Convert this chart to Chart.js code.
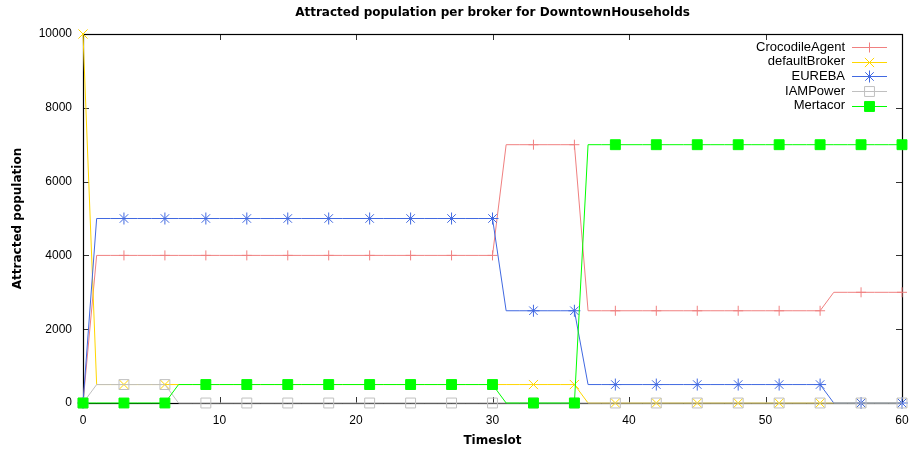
<!DOCTYPE html>
<html>
<head>
<meta charset="utf-8">
<script src="https://cdn.jsdelivr.net/npm/chart.js@4.4.1/dist/chart.umd.min.js"></script>
<style>
  html, body { margin: 0; padding: 0; background: #fff; }
  #c { display: block; }
</style>
</head>
<body>
<canvas id="c" width="915" height="450"></canvas>
<script>
// ---- Data ----
const TITLE = 'Attracted population per broker for DowntownHouseholds';
const X_LABEL = 'Timeslot';
const Y_LABEL = 'Attracted population';

const timeslots = [
  0, 1, 2, 3, 4, 5, 6, 7, 8, 9,
  10, 11, 12, 13, 14, 15, 16, 17, 18, 19,
  20, 21, 22, 23, 24, 25, 26, 27, 28, 29,
  30, 31, 32, 33, 34, 35, 36, 37, 38, 39,
  40, 41, 42, 43, 44, 45, 46, 47, 48, 49,
  50, 51, 52, 53, 54, 55, 56, 57, 58, 59,
  60
];

const brokers = ['CrocodileAgent', 'defaultBroker', 'EUREBA', 'IAMPower', 'Mertacor'];

const crocodileAgent = [
  0, 4000, 4000, 4000, 4000, 4000, 4000, 4000, 4000, 4000,
  4000, 4000, 4000, 4000, 4000, 4000, 4000, 4000, 4000, 4000,
  4000, 4000, 4000, 4000, 4000, 4000, 4000, 4000, 4000, 4000,
  4000, 7000, 7000, 7000, 7000, 7000, 7000, 2500, 2500, 2500,
  2500, 2500, 2500, 2500, 2500, 2500, 2500, 2500, 2500, 2500,
  2500, 2500, 2500, 2500, 2500, 3000, 3000, 3000, 3000, 3000,
  3000
];
const defaultBroker = [
  10000, 500, 500, 500, 500, 500, 500, 500, 500, 500,
  500, 500, 500, 500, 500, 500, 500, 500, 500, 500,
  500, 500, 500, 500, 500, 500, 500, 500, 500, 500,
  500, 500, 500, 500, 500, 500, 500, 0, 0, 0,
  0, 0, 0, 0, 0, 0, 0, 0, 0, 0,
  0, 0, 0, 0, 0, 0, 0, 0, 0, 0,
  0
];
const eureba = [
  0, 5000, 5000, 5000, 5000, 5000, 5000, 5000, 5000, 5000,
  5000, 5000, 5000, 5000, 5000, 5000, 5000, 5000, 5000, 5000,
  5000, 5000, 5000, 5000, 5000, 5000, 5000, 5000, 5000, 5000,
  5000, 2500, 2500, 2500, 2500, 2500, 2500, 500, 500, 500,
  500, 500, 500, 500, 500, 500, 500, 500, 500, 500,
  500, 500, 500, 500, 500, 0, 0, 0, 0, 0,
  0
];
const iamPower = [
  0, 500, 500, 500, 500, 500, 500, 0, 0, 0,
  0, 0, 0, 0, 0, 0, 0, 0, 0, 0,
  0, 0, 0, 0, 0, 0, 0, 0, 0, 0,
  0, 0, 0, 0, 0, 0, 0, 0, 0, 0,
  0, 0, 0, 0, 0, 0, 0, 0, 0, 0,
  0, 0, 0, 0, 0, 0, 0, 0, 0, 0,
  0
];
const mertacor = [
  0, 0, 0, 0, 0, 0, 0, 500, 500, 500,
  500, 500, 500, 500, 500, 500, 500, 500, 500, 500,
  500, 500, 500, 500, 500, 500, 500, 500, 500, 500,
  500, 0, 0, 0, 0, 0, 0, 7000, 7000, 7000,
  7000, 7000, 7000, 7000, 7000, 7000, 7000, 7000, 7000, 7000,
  7000, 7000, 7000, 7000, 7000, 7000, 7000, 7000, 7000, 7000,
  7000
];

const xTicks = [0, 10, 20, 30, 40, 50, 60];
const yTicks = [0, 2000, 4000, 6000, 8000, 10000];

// ---- Styles ----
const seriesValues = [crocodileAgent, defaultBroker, eureba, iamPower, mertacor];
const styles = [
  { color: 'rgb(240,128,128)', point: 'cross',    radius: 5,   fill: false },
  { color: 'rgb(255,215,0)',   point: 'crossRot', radius: 6.5, fill: false },
  { color: 'rgb(65,105,225)',  point: 'star',     radius: 6,   fill: false },
  { color: 'rgb(192,192,192)', point: 'rect',     radius: 7,   fill: false },
  { color: 'rgb(0,255,0)',     point: 'rect',     radius: 7,   fill: true  }
];

const datasets = brokers.map((name, i) => {
  const s = styles[i];
  return {
    label: name,
    data: timeslots.map((t, k) => ({ x: t, y: seriesValues[i][k] })),
    borderColor: s.color,
    borderWidth: 1,
    backgroundColor: s.fill ? s.color : 'rgba(0,0,0,0)',
    pointStyle: s.point,
    pointBorderColor: s.color,
    pointBackgroundColor: s.fill ? s.color : 'rgba(0,0,0,0)',
    pointBorderWidth: 1,
    pointRadius: (c) => (c.dataIndex % 3 === 0 ? s.radius : 0),
    pointHoverRadius: 0,
    tension: 0,
    fill: false,
    clip: false,
    order: brokers.length - 1 - i
  };
});

const FONT_TICK = { family: 'Liberation Sans, Arial, sans-serif', size: 12 };
const FONT_BOLD = { family: 'DejaVu Sans, sans-serif', size: 12, weight: 'bold', lineHeight: 1.2 };

function drawMarker(ctx, style, x, y) {
  ctx.save();
  ctx.strokeStyle = style.color;
  ctx.fillStyle = style.color;
  ctx.lineWidth = 1;
  const r = style.radius;
  ctx.beginPath();
  if (style.point === 'cross' || style.point === 'star') {
    ctx.moveTo(x - r, y); ctx.lineTo(x + r, y);
    ctx.moveTo(x, y - r); ctx.lineTo(x, y + r);
  }
  if (style.point === 'crossRot' || style.point === 'star') {
    const d = r * Math.SQRT1_2;
    ctx.moveTo(x - d, y - d); ctx.lineTo(x + d, y + d);
    ctx.moveTo(x - d, y + d); ctx.lineTo(x + d, y - d);
  }
  if (style.point === 'rect') {
    const d = r * Math.SQRT1_2;
    ctx.rect(x - d, y - d, 2 * d, 2 * d);
    if (style.fill) ctx.fill();
  }
  ctx.stroke();
  ctx.restore();
}

const framePlugin = {
  id: 'frame',
  beforeDraw(chart) {
    const ctx = chart.ctx;
    ctx.save();
    ctx.fillStyle = '#fff';
    ctx.fillRect(0, 0, chart.width, chart.height);
    ctx.restore();
  },
  beforeDatasetsDraw(chart) {
    const { ctx, chartArea: a, scales } = chart;
    ctx.save();
    ctx.strokeStyle = '#333';
    ctx.lineWidth = 1;
    ctx.beginPath();
    const L = 6;
    xTicks.forEach(v => {
      const px = Math.round(scales.x.getPixelForValue(v)) + 0.5;
      ctx.moveTo(px, a.bottom); ctx.lineTo(px, a.bottom - L);
      ctx.moveTo(px, a.top); ctx.lineTo(px, a.top + L);
    });
    yTicks.forEach(v => {
      const py = Math.round(scales.y.getPixelForValue(v)) + 0.5;
      ctx.moveTo(a.left, py); ctx.lineTo(a.left + L, py);
      ctx.moveTo(a.right, py); ctx.lineTo(a.right - L, py);
    });
    ctx.stroke();
    ctx.strokeStyle = '#000';
    ctx.lineWidth = 1.2;
    ctx.strokeRect(Math.round(a.left) + 0.5, Math.round(a.top) + 0.5,
                   Math.round(a.right - a.left), Math.round(a.bottom - a.top));
    ctx.restore();
  },
  afterDatasetsDraw(chart) {
    const ctx = chart.ctx;
    const a = chart.chartArea;
    const textRight = a.right - 57;
    const lineX0 = a.right - 50;
    const lineX1 = a.right - 15;
    const markX = (lineX0 + lineX1) / 2;
    ctx.save();
    ctx.font = '13px "Liberation Sans", Arial, sans-serif';
    ctx.textAlign = 'right';
    ctx.textBaseline = 'middle';
    chart.data.datasets.forEach((ds, i) => {
      const y = a.top + 13 + i * 14.7;
      ctx.fillStyle = '#000';
      ctx.fillText(ds.label, textRight, y);
      const st = styles[i];
      ctx.strokeStyle = st.color;
      ctx.lineWidth = 1;
      ctx.beginPath();
      ctx.moveTo(lineX0, Math.round(y) + 0.5);
      ctx.lineTo(lineX1, Math.round(y) + 0.5);
      ctx.stroke();
      drawMarker(ctx, st, markX, Math.round(y) + 0.5);
    });
    ctx.restore();
  }
};

new Chart(document.getElementById('c'), {
  type: 'line',
  data: { datasets },
  options: {
    responsive: false,
    animation: false,
    events: [],
    layout: { padding: { left: 0, right: 13, top: 0, bottom: 0 } },
    plugins: {
      legend: { display: false },
      tooltip: { enabled: false },
      title: {
        display: true,
        text: TITLE,
        fullSize: false,
        color: '#000',
        font: FONT_BOLD,
        padding: { top: 6, bottom: 13.6 }
      }
    },
    scales: {
      x: {
        type: 'linear',
        min: 0, max: 60,
        afterBuildTicks: (s) => { s.ticks = xTicks.map(v => ({ value: v })); },
        afterFit: (s) => { s.height = 47; s.paddingLeft = 0; s.paddingRight = 0; },
        ticks: { color: '#000', font: FONT_TICK, padding: 10, maxRotation: 0, autoSkip: false,
                 callback: (v) => String(v) },
        grid: { display: false, drawTicks: false },
        border: { display: false },
        title: { display: true, text: X_LABEL, color: '#000', font: FONT_BOLD, padding: { top: 0, bottom: 1.8 } }
      },
      y: {
        type: 'linear',
        min: 0, max: 10000,
        afterBuildTicks: (s) => { s.ticks = yTicks.map(v => ({ value: v })); },
        afterFit: (s) => { s.width = 83; s.paddingTop = 0; s.paddingBottom = 0; },
        ticks: { color: '#000', font: FONT_TICK, padding: 11, autoSkip: false,
                 callback: (v) => String(v) },
        grid: { display: false, drawTicks: false },
        border: { display: false },
        title: { display: true, text: Y_LABEL, color: '#000', font: FONT_BOLD, padding: { top: 11, bottom: 0 } }
      }
    }
  },
  plugins: [framePlugin]
});
</script>
</body>
</html>
